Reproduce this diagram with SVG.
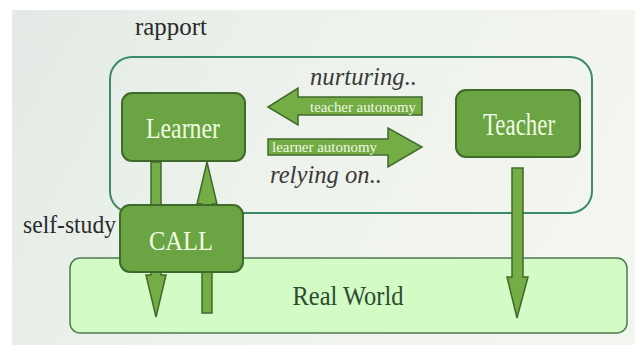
<svg xmlns="http://www.w3.org/2000/svg" width="635" height="345" viewBox="0 0 635 345">
<defs>
<linearGradient id="bg" x1="0" y1="0" x2="1" y2="0.3">
<stop offset="0" stop-color="#e3eae5"/>
<stop offset="0.5" stop-color="#edf2ec"/>
<stop offset="1" stop-color="#f3f6ee"/>
</linearGradient>
<style>
text{font-family:'Liberation Serif',serif}
.box{fill:#6ba443;stroke:#3f6a2b;stroke-width:2}
.arr{fill:#74ac46;stroke:#3f6a2b;stroke-width:1.5}
.lbl{fill:#f1fbe4;text-anchor:middle}
.dark{fill:#2b2b2b}
.it{font-style:italic;fill:#3a3a3a;font-size:25px}
.small{fill:#eef9e2;font-size:15px}
</style>
</defs>
<rect x="0" y="0" width="635" height="345" fill="#ffffff"/>
<rect x="12" y="10" width="623" height="335" fill="url(#bg)"/>

<g id="rapport">
<rect x="110" y="57" width="482" height="156" rx="22" fill="none" stroke="#3b8b68" stroke-width="2"/>
<text class="dark" x="135" y="35" font-size="26" textLength="72" lengthAdjust="spacingAndGlyphs">rapport</text>
</g>

<g id="real-world">
<rect x="70" y="258" width="557" height="75" rx="10" fill="#d2fbc6" stroke="#4d7a50" stroke-width="1.5"/>
<text x="348" y="305" font-size="27" text-anchor="middle" textLength="111" lengthAdjust="spacingAndGlyphs" fill="#2e4a30">Real World</text>
</g>

<g id="connectors">
<polygon class="arr" points="151,162 161,162 161,275 166,275 156,317 146,275 151,275"/>
<polygon class="arr" points="202,313 212,313 212,204 217,204 207,162 197,204 202,204"/>
<polygon class="arr" points="512,168 523,168 523,277 528,277 517,318 507,277 512,277"/>
<polygon class="arr" points="422,97 422,115 298,115 298,125 268,107 298,88 298,97"/>
<text class="small" x="310" y="112" textLength="106" lengthAdjust="spacingAndGlyphs">teacher autonomy</text>
<text class="it" x="310" y="85" textLength="107" lengthAdjust="spacingAndGlyphs">nurturing..</text>
<polygon class="arr" points="268,139 388,139 388,128 422,147 388,167 388,155 268,155"/>
<text class="small" x="272" y="152" textLength="105" lengthAdjust="spacingAndGlyphs">learner autonomy</text>
<text class="it" x="270" y="183" textLength="112" lengthAdjust="spacingAndGlyphs">relying on..</text>
</g>

<g id="learner">
<rect class="box" x="122" y="93" width="123" height="68" rx="10"/>
<text class="lbl" x="183" y="138" font-size="30" textLength="74" lengthAdjust="spacingAndGlyphs">Learner</text>
</g>

<g id="teacher">
<rect class="box" x="456" y="90" width="124" height="67" rx="10"/>
<text class="lbl" x="519" y="135" font-size="31" textLength="72" lengthAdjust="spacingAndGlyphs">Teacher</text>
</g>

<g id="call">
<rect class="box" x="120" y="205" width="123" height="67" rx="10"/>
<text class="lbl" x="181" y="250" font-size="27" textLength="64" lengthAdjust="spacingAndGlyphs">CALL</text>
</g>

<g id="self-study">
<text class="dark" x="23" y="233" font-size="26" textLength="93" lengthAdjust="spacingAndGlyphs">self-study</text>
</g>
</svg>
